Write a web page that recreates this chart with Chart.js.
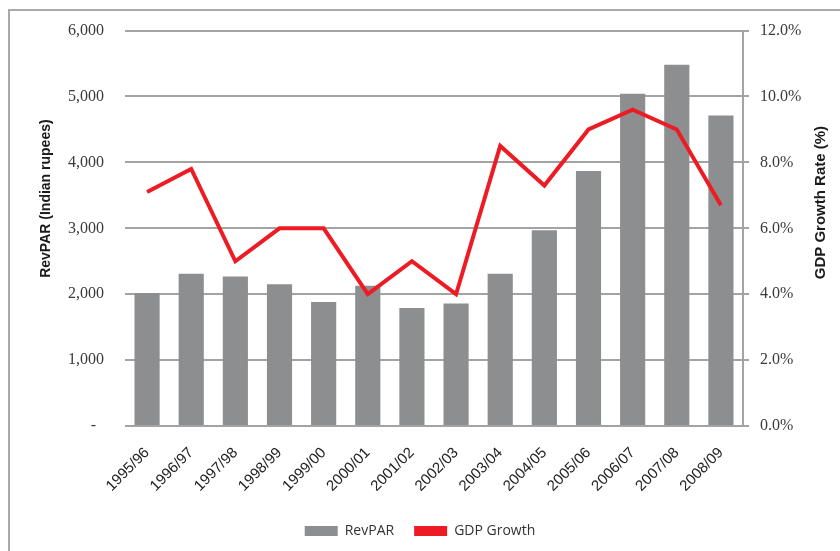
<!DOCTYPE html>
<html>
<head>
<meta charset="utf-8">
<script src="https://cdn.jsdelivr.net/npm/chart.js@4/dist/chart.umd.min.js"></script>
<style>
  html, body { margin: 0; padding: 0; background: #fff; overflow: hidden; }
  #wrap { position: relative; width: 840px; height: 551px; }
  #frame { position: absolute; left: 8px; top: 9px; width: 900px; height: 600px;
           border: 2px solid #a9a9a9; box-sizing: border-box; }
  #chart { position: absolute; left: 0; top: 0; }
</style>
</head>
<body>
<div id="wrap">
  <div id="frame"></div>
  <canvas id="chart" width="840" height="551"></canvas>
</div>
<script>
var years = ["1995/96", "1996/97", "1997/98", "1998/99", "1999/00", "2000/01", "2001/02",
             "2002/03", "2003/04", "2004/05", "2005/06", "2006/07", "2007/08", "2008/09"];
var revpar = [2020, 2310, 2270, 2150, 1880, 2130, 1790, 1860, 2310, 2970, 3870, 5040, 5480, 4710];
var gdpGrowth = [7.1, 7.8, 5.0, 6.0, 6.0, 4.0, 5.0, 4.0, 8.5, 7.3, 9.0, 9.6, 9.0, 6.7];

var gridGray = '#a3a3a3';
var serif = { family: '"Liberation Serif", serif', size: 16 };
var sansFamily = '"Liberation Sans", Arial, sans-serif';

Chart.defaults.animation = false;
Chart.defaults.color = '#3a3a3a';

// both axis titles read bottom-to-top, so draw them by hand
var axisTitles = {
  id: 'axisTitles',
  afterDraw: function(chart) {
    var ctx = chart.ctx;
    var top = chart.chartArea.top;
    ctx.save();
    ctx.fillStyle = '#1a1a1a';
    ctx.textAlign = 'center';
    ctx.textBaseline = 'middle';
    [['RevPAR (Indian rupees)', 46, top + 168, 14],
     ['GDP Growth Rate (%)', 821, top + 172, 15]].forEach(function(t) {
      ctx.save();
      ctx.font = 'bold ' + t[3] + 'px ' + sansFamily;
      ctx.translate(t[1], t[2]);
      ctx.rotate(-Math.PI / 2);
      ctx.fillText(t[0], 0, 0);
      ctx.restore();
    });
    ctx.restore();
  }
};

new Chart('chart', {
  data: {
    labels: years,
    datasets: [
      {
        type: 'line',
        label: 'GDP Growth',
        data: gdpGrowth,
        yAxisID: 'y1',
        borderColor: '#ed1c24',
        backgroundColor: '#ed1c24',
        borderWidth: 4,
        pointRadius: 0,
        tension: 0,
        order: 0
      },
      {
        type: 'bar',
        label: 'RevPAR',
        data: revpar,
        yAxisID: 'y',
        backgroundColor: '#8d8e90',
        categoryPercentage: 1,
        barPercentage: 0.57,
        order: 1
      }
    ]
  },
  plugins: [axisTitles],
  options: {
    responsive: false,
    layout: { padding: { left: 0, right: 0, top: 28, bottom: 3 } },
    plugins: {
      tooltip: { enabled: false },
      legend: {
        position: 'bottom',
        reverse: true,
        labels: {
          boxWidth: 33,
          boxHeight: 10,
          padding: 20,
          color: '#333',
          font: { family: '"Open Sans", sans-serif', size: 14 },
          generateLabels: function(chart) {
            var items = Chart.defaults.plugins.legend.labels.generateLabels(chart);
            items.forEach(function(it) { it.lineWidth = 0; });
            return items;
          }
        }
      }
    },
    scales: {
      x: {
        grid: { display: false },
        border: { display: false },
        ticks: {
          minRotation: 45,
          maxRotation: 45,
          padding: 10,
          color: '#222',
          font: { family: sansFamily, size: 15 }
        },
        afterFit: function(scale) { scale.height = 78; }
      },
      y: {
        position: 'left',
        min: 0,
        max: 6000,
        grid: { color: gridGray, lineWidth: 2, drawTicks: false },
        border: { display: false },
        ticks: {
          stepSize: 1000,
          padding: 21,
          font: serif,
          callback: function(v) { return v === 0 ? '-  ' : v.toLocaleString('en-US'); }
        },
        afterFit: function(scale) { scale.width = 125; }
      },
      y1: {
        position: 'right',
        min: 0,
        max: 12,
        grid: { drawOnChartArea: false, color: gridGray, lineWidth: 2, tickLength: 6 },
        border: { display: true, color: gridGray, width: 2 },
        ticks: {
          stepSize: 2,
          padding: 11,
          font: serif,
          callback: function(v) { return v.toFixed(1) + '%'; }
        },
        afterFit: function(scale) { scale.width = 97; }
      }
    }
  }
});
</script>
</body>
</html>
